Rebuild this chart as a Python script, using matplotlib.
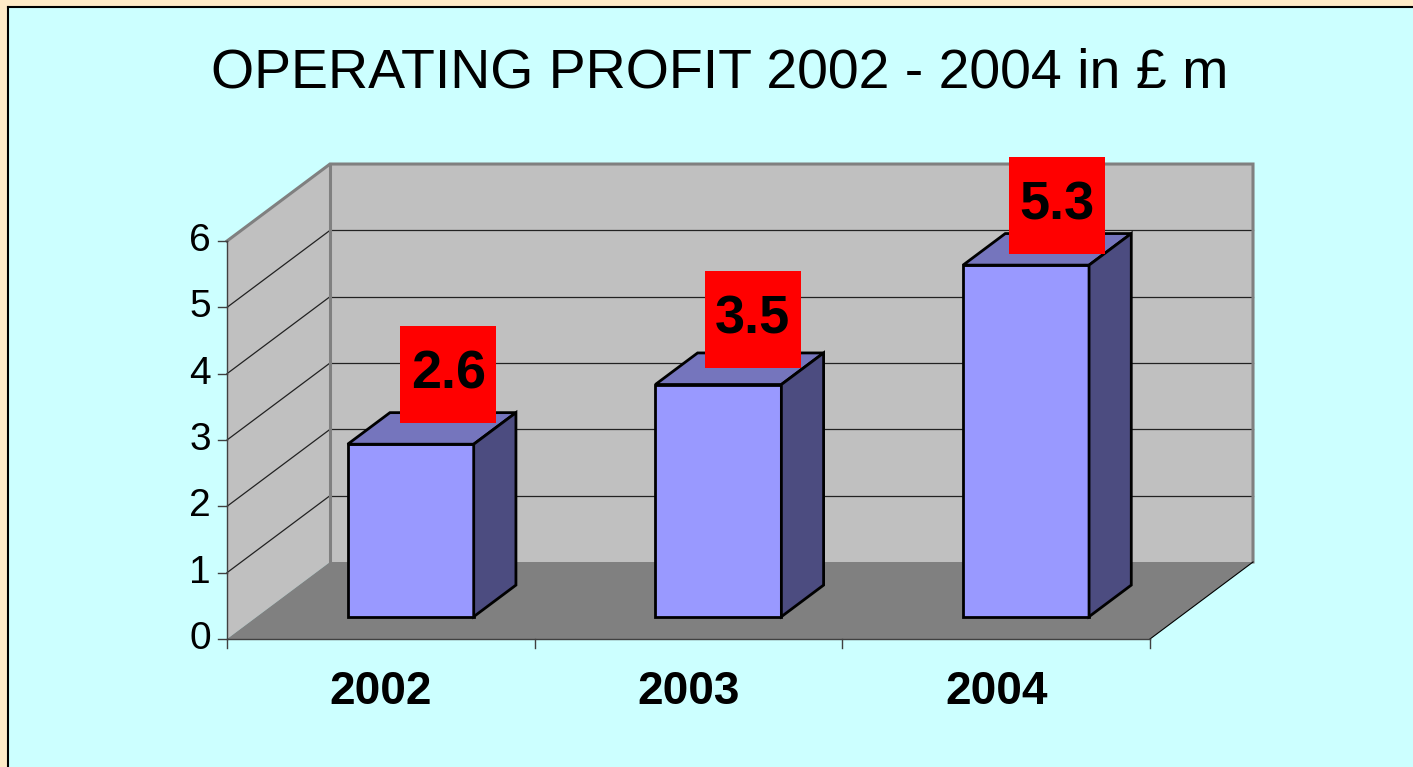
import matplotlib
matplotlib.use('Agg')
import matplotlib.pyplot as plt
from matplotlib.patches import Polygon, Rectangle

plt.rcParams['font.family'] = ['Liberation Sans', 'DejaVu Sans']

# data
years = ['2002', '2003', '2004']
profit = [2.6, 3.5, 5.3]
yticks = [0, 1, 2, 3, 4, 5, 6]
title = 'OPERATING PROFIT 2002 - 2004 in £ m'

# pixel scale of the front plane (1 category / 1 unit of profit)
W, H = 1413, 767
cat_px = 307.67
unit_px = 66.33
x0_px, y0_px = 227, 639
# depth offset of the 3d box, in data units
DX = 103 / cat_px
DY = 77 / unit_px


def proj(x, v, d):
    return (x + d * DX, v + d * DY)


def poly(ax, pts, fc, ec='none', lw=0, z=1):
    ax.add_patch(Polygon([proj(*p) for p in pts], closed=True, facecolor=fc,
                         edgecolor=ec, linewidth=lw, zorder=z, joinstyle='miter'))


fig = plt.figure(figsize=(W / 100, H / 100), dpi=100)
fig.patch.set_facecolor('#FFEBC8')

ax = fig.add_axes([0, 0, 1, 1])
ax.set_xlim(-x0_px / cat_px, (W - x0_px) / cat_px)
ax.set_ylim((y0_px - H) / unit_px, y0_px / unit_px)
ax.axis('off')

# cyan panel with black left/top border (drawn inside the axes, below everything)
ax.add_patch(Rectangle((8 / W, -0.01), 1.0, 1.01 - 7 / H, transform=ax.transAxes,
                       facecolor='#CCFFFF', edgecolor='none', zorder=0))
ax.plot([8 / W, 8 / W], [-0.01, 1 - 7 / H], transform=ax.transAxes, color='black', lw=1.5, zorder=0.5)
ax.plot([8 / W, 1.01], [1 - 7 / H, 1 - 7 / H], transform=ax.transAxes, color='black', lw=1.5, zorder=0.5)

n = len(years)
vmax = yticks[-1]

# walls and floor
poly(ax, [(0, 0, 0), (0, 0, 1), (0, vmax, 1), (0, vmax, 0)], '#C0C0C0')
poly(ax, [(0, 0, 1), (n, 0, 1), (n, vmax, 1), (0, vmax, 1)], '#C0C0C0')
poly(ax, [(0, 0, 0), (n, 0, 0), (n, 0, 1), (0, 0, 1)], '#808080')

# gridlines on back wall and side wall
for v in yticks[1:-1]:
    xs, ys = zip(proj(0, v, 1), proj(n, v, 1))
    ax.plot(xs, ys, color='#222222', lw=0.9, zorder=2)
    xs, ys = zip(proj(0, v, 0), proj(0, v, 1))
    ax.plot(xs, ys, color='#222222', lw=0.9, zorder=2)

# wall edges
xs, ys = zip(proj(0, vmax, 0), proj(0, vmax, 1), proj(n, vmax, 1), proj(n, 0, 1))
ax.plot(xs, ys, color='#808080', lw=2.2, zorder=2, solid_joinstyle='miter')
xs, ys = zip(proj(0, 0, 1), proj(0, vmax, 1))
ax.plot(xs, ys, color='#808080', lw=2.2, zorder=2)
xs, ys = zip(proj(n, 0, 0), proj(n, 0, 1))
ax.plot(xs, ys, color='black', lw=0.8, zorder=2)

# axes lines and ticks
ax.plot([0, 0], [0, vmax], color='#404040', lw=1.0, zorder=3)
ax.plot([0, n], [0, 0], color='#404040', lw=1.0, zorder=3)
tick_x = 9 / cat_px
tick_y = 9 / unit_px
for v in yticks:
    ax.plot([-tick_x, 0], [v, v], color='#404040', lw=1.0, zorder=3)
    ax.text(-16 / cat_px, v, str(v), ha='right', va='center', fontsize=28, zorder=3)
for i in range(n + 1):
    ax.plot([i, i], [0, -tick_y], color='#404040', lw=1.0, zorder=3)
for i, yr in enumerate(years):
    ax.text(i + 0.5, -53 / unit_px, yr, ha='center', va='center', fontsize=33,
            fontweight='bold', zorder=3)

# 3d bars
half = 63 / cat_px
d_front, d_back = 0.29, 0.70
for i, val in enumerate(profit):
    xa, xb = i + 0.5 - half, i + 0.5 + half
    poly(ax, [(xa, 0, d_front), (xb, 0, d_front), (xb, val, d_front), (xa, val, d_front)],
         '#9999FF', 'black', 2.0, 5)
    poly(ax, [(xa, val, d_front), (xb, val, d_front), (xb, val, d_back), (xa, val, d_back)],
         '#7575BD', 'black', 2.0, 5)
    poly(ax, [(xb, 0, d_front), (xb, 0, d_back), (xb, val, d_back), (xb, val, d_front)],
         '#4C4C80', 'black', 2.0, 5)

    # red value label above the bar top
    cx, cy = proj(i + 0.5, val, 0.5)
    cx += (16 - 3.5 * i) / cat_px
    cy += (54 - 5.5 * i) / unit_px
    bw, bh = 96 / cat_px, 97 / unit_px
    ax.add_patch(Rectangle((cx - bw / 2, cy - bh / 2), bw, bh, facecolor='#FF0000',
                           edgecolor='none', zorder=6))
    ax.text(cx, cy, f'{val}', ha='center', va='center', fontsize=39, fontweight='bold', zorder=7)

ax.text(720 / W, 1 - 88 / H, title, transform=ax.transAxes, ha='center', va='baseline', fontsize=40)

fig.savefig('out.png', dpi=100, facecolor=fig.get_facecolor())
